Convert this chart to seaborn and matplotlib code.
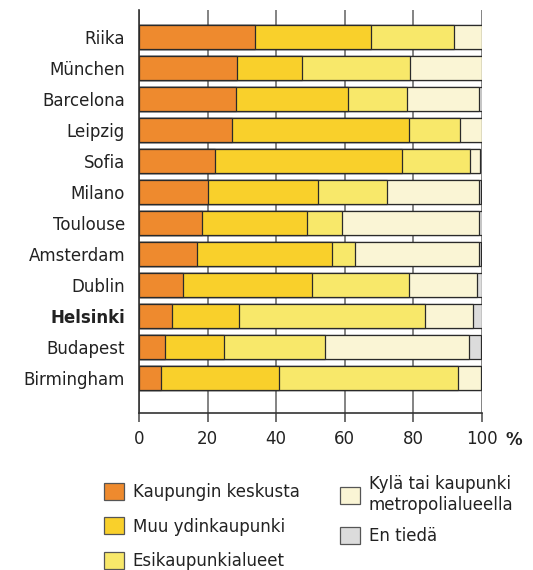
import numpy as np
import pandas as pd
import seaborn as sns
import matplotlib.pyplot as plt
from matplotlib.patches import Patch

cities = ["Riika", "München", "Barcelona", "Leipzig", "Sofia", "Milano",
          "Toulouse", "Amsterdam", "Dublin", "Helsinki", "Budapest", "Birmingham"]

keskusta = [33.8, 28.5, 28.2, 27.0, 22.3, 20.0, 18.3, 17.0, 12.7, 9.7, 7.7, 6.4]
ydin = [33.9, 19.1, 32.7, 51.7, 54.4, 32.3, 30.7, 39.2, 37.6, 19.5, 17.2, 34.3]
esikaupunki = [24.2, 31.5, 17.1, 14.9, 19.9, 20.1, 10.2, 6.7, 28.4, 54.2, 29.4, 52.2]
kyla = [8.0, 20.9, 21.2, 6.4, 2.9, 26.7, 40.0, 36.3, 19.7, 14.1, 41.9, 6.7]
en_tieda = [0.0, 0.0, 0.8, 0.0, 0.0, 0.6, 0.8, 0.5, 1.6, 2.5, 3.4, 0.0]

labels = ["Kaupungin keskusta", "Muu ydinkaupunki", "Esikaupunkialueet",
          "Kylä tai kaupunki\nmetropolialueella", "En tiedä"]
colors = ["#EE8A2E", "#F9D02B", "#F8E86A", "#FAF5D5", "#DCDCDC"]

df = pd.DataFrame({"city": cities, "k": keskusta, "y": ydin, "e": esikaupunki,
                   "ky": kyla, "t": en_tieda})
cum = df[["k", "y", "e", "ky", "t"]].cumsum(axis=1)

sns.set_style("white")
plt.rcParams["font.family"] = ["DejaVu Sans"]
plt.rcParams["text.color"] = "#222222"

fig = plt.figure(figsize=(5.33, 5.70), dpi=100)
ax = fig.add_axes([0.2608, 0.2754, 0.6435, 0.7071])

# stacked bars: draw cumulative totals from the longest to the shortest
for col, c in zip(reversed(cum.columns), reversed(colors)):
    sns.barplot(x=cum[col], y=df["city"], orient="h", color=c, ax=ax,
                edgecolor="#2a2a2a", linewidth=0.9, width=0.77, saturation=1,
                zorder=3)

ax.set_xlim(0, 100)
ax.set_ylim(12.13, -0.87)
ax.set_xticks([0, 20, 40, 60, 80, 100])
ax.xaxis.grid(True, color="#7a7a7a", linewidth=1.3, zorder=0)
ax.set_axisbelow(True)
for s in ["top", "right"]:
    ax.spines[s].set_visible(False)
ax.spines["left"].set_color("#333333")
ax.spines["bottom"].set_color("#333333")
ax.spines["left"].set_linewidth(1.2)
ax.spines["bottom"].set_linewidth(1.2)
ax.tick_params(axis="x", direction="out", length=6.5, width=1.2,
               color="#555555", labelsize=12, pad=6, bottom=True,
               labelcolor="#222222")
ax.tick_params(axis="y", length=0, labelsize=12, pad=10, labelcolor="#222222")
ax.set_xlabel("")
ax.set_ylabel("")
for t in ax.get_yticklabels():
    if t.get_text() == "Helsinki":
        t.set_fontweight("bold")

ax.annotate("%", xy=(100, 0), xycoords=("data", "axes fraction"),
            xytext=(17, -19.5), textcoords="offset points", fontsize=12,
            fontweight="bold", ha="left", va="center")

handles = [Patch(facecolor=c, edgecolor="#555555", linewidth=0.9) for c in colors]
leg_kw = dict(loc="upper left", frameon=False, fontsize=12, handlelength=1.2,
              handleheight=1.2, handletextpad=0.5, borderpad=0)
fig.legend(handles[:3], labels[:3], bbox_to_anchor=(0.180, 0.168),
           labelspacing=1.0, **leg_kw)
fig.legend(handles[3:], labels[3:], bbox_to_anchor=(0.623, 0.181),
           labelspacing=0.8, **leg_kw)

fig.savefig("out.png", dpi=100)
